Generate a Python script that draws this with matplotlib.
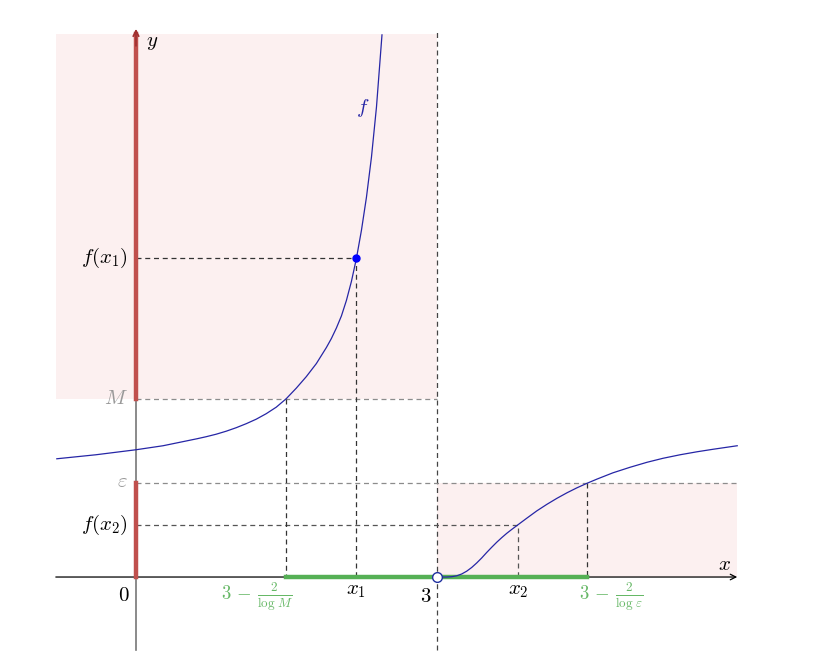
import matplotlib
matplotlib.use("Agg")
import matplotlib.pyplot as plt
from matplotlib.patches import Rectangle

plt.rcParams['mathtext.fontset'] = 'cm'
plt.rcParams['font.family'] = ['DejaVu Serif']

# points, left of the asymptote x = 3
left_x = [-0.79, -0.40, 0.00, 0.27, 0.61, 0.70, 0.80, 0.90, 1.00, 1.10, 1.20, 1.30, 1.40, 1.50,
          1.60, 1.70, 1.80, 1.90, 1.95, 2.00, 2.05, 2.10, 2.15, 2.20, 2.25, 2.30, 2.35, 2.40, 2.455]
left_y = [1.18, 1.22, 1.27, 1.31, 1.38, 1.40, 1.425, 1.455, 1.49, 1.53, 1.575, 1.63, 1.695, 1.78,
          1.885, 2.00, 2.13, 2.29, 2.38, 2.485, 2.605, 2.76, 2.95, 3.18, 3.46, 3.79, 4.19, 4.69, 5.41]

# right of the asymptote
right_x = [3.00, 3.10, 3.15, 3.20, 3.25, 3.30, 3.35, 3.40, 3.45, 3.50, 3.55, 3.60, 3.65, 3.70,
           3.75, 3.81, 3.90, 4.00, 4.10, 4.20, 4.30, 4.40, 4.50, 4.60, 4.76, 4.93, 5.10, 5.26,
           5.43, 5.60, 5.76, 6.00]
right_y = [0.00, 0.00, 0.003, 0.012, 0.03, 0.058, 0.095, 0.14, 0.19, 0.245, 0.297, 0.347, 0.393, 0.436,
           0.475, 0.52, 0.587, 0.66, 0.725, 0.785, 0.84, 0.89, 0.935, 0.977, 1.04, 1.095, 1.145, 1.185,
           1.22, 1.25, 1.275, 1.31]

# levels and marked abscissas
M = 1.78
eps = 0.935
x1, fx1 = 2.20, 3.18
x2, fx2 = 3.81, 0.52
xM = 1.50     # 3 - 2/log M
xeps = 4.50   # 3 - 2/log eps
asym = 3.0

xmin, xmax = -0.8, 6.0
ymin, ytop = -0.73, 5.42

fig = plt.figure(figsize=(8.26, 6.6), dpi=100)
ax = fig.add_axes([0, 0, 1, 1])
ax.set_xlim(-1.357, 6.886)
ax.set_ylim(-0.828, 5.758)
ax.axis('off')

pink = '#fcf0f0'
red = '#c0504d'
green = '#55b055'
blue = '#2626a6'

# shaded regions
ax.add_patch(Rectangle((xmin, M), asym - xmin, ytop - M, color=pink, lw=0, zorder=0))
ax.add_patch(Rectangle((asym, 0), xmax - asym, eps, color=pink, lw=0, zorder=0))

# dashed guides
ax.plot([asym, asym], [ymin, ytop + 0.02], ls=(0, (4, 3)), color='#444444', lw=0.9, zorder=1)
ax.plot([0, asym], [M, M], ls=(0, (4, 3)), color='#8c8c8c', lw=0.9, zorder=1)
ax.plot([0, xmax], [eps, eps], ls=(0, (4, 3)), color='#8c8c8c', lw=0.9, zorder=1)
ax.plot([0, x1, x1], [fx1, fx1, 0], ls=(0, (4, 3)), color='#333333', lw=0.9, zorder=1)
ax.plot([0, x2, x2], [fx2, fx2, 0], ls=(0, (4, 3)), color='#555555', lw=0.9, zorder=1)
ax.plot([xM, xM], [M, 0], ls=(0, (4, 3)), color='#333333', lw=0.9, zorder=1)
ax.plot([xeps, xeps], [eps, 0], ls=(0, (4, 3)), color='#333333', lw=0.9, zorder=1)

# axes
ax.annotate('', xy=(xmax, 0), xytext=(xmin, 0),
            arrowprops=dict(arrowstyle='->', lw=0.9, color='black', shrinkA=0, shrinkB=0), zorder=2)
ax.plot([0, 0], [ymin, M], color='#777777', lw=1.2, zorder=2)
ax.plot([0, 0], [M, ytop], color=red, lw=3.2, zorder=3)
ax.plot([0, 0], [0, eps], color=red, lw=3.2, zorder=3)
ax.annotate('', xy=(0, 5.47), xytext=(0, 5.3),
            arrowprops=dict(arrowstyle='->', lw=1.2, color='#a03030', shrinkA=0, shrinkB=0), zorder=3)
ax.plot([xM, xeps], [0, 0], color=green, lw=3.2, zorder=3)

# the function
ax.plot(left_x, left_y, color=blue, lw=0.9, zorder=4)
ax.plot(right_x, right_y, color=blue, lw=0.9, zorder=4)
ax.plot([x1], [fx1], 'o', color='#0000ff', ms=5, zorder=5)
ax.plot([asym], [0], 'o', mfc='white', mec='#2030a0', mew=1, ms=7, zorder=5)

# labels
fs = 15
ax.text(0.1, 5.33, r'$y$', fontsize=fs, ha='left', va='center')
ax.text(5.87, 0.12, r'$x$', fontsize=fs, ha='center', va='center')
ax.text(2.26, 4.68, r'$f$', fontsize=fs, color=blue, ha='center', va='center')
ax.text(-0.08, fx1, r'$f(x_1)$', fontsize=fs, ha='right', va='center')
ax.text(-0.08, M, r'$M$', fontsize=fs, color='#999999', ha='right', va='center')
ax.text(-0.08, eps + 0.02, r'$\varepsilon$', fontsize=fs, color='#999999', ha='right', va='center')
ax.text(-0.08, fx2, r'$f(x_2)$', fontsize=fs, ha='right', va='center')
ax.text(-0.12, -0.18, r'$0$', fontsize=fs, ha='center', va='center')
ax.text(x1, -0.13, r'$x_1$', fontsize=fs, ha='center', va='center')
ax.text(2.89, -0.19, r'$3$', fontsize=fs, ha='center', va='center')
ax.text(x2, -0.13, r'$x_2$', fontsize=fs, ha='center', va='center')
ax.text(1.21, -0.2, r'$3\,-\,\frac{2}{\log\,M}$', fontsize=13.5, color='#66b866', ha='center', va='center')
ax.text(4.74, -0.2, r'$3\,-\,\frac{2}{\log\,\varepsilon}$', fontsize=13.5, color='#66b866', ha='center', va='center')

fig.savefig('out.png', dpi=100)
